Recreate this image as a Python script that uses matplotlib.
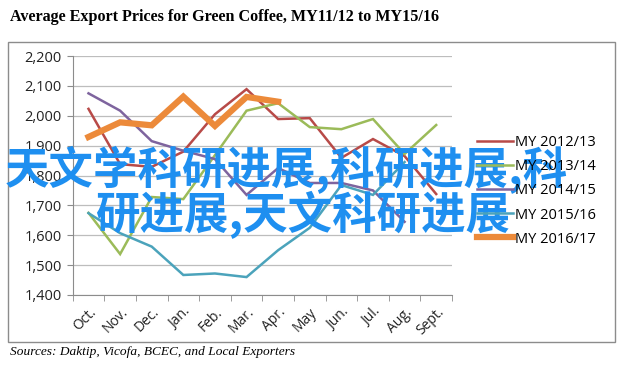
import numpy as np
import matplotlib
matplotlib.use('Agg')
import matplotlib.pyplot as plt
from matplotlib.patches import Rectangle

# data (USD/ton)
months = ["Oct.", "Nov.", "Dec.", "Jan.", "Feb.", "Mar.", "Apr.",
          "May", "Jun.", "Jul.", "Aug.", "Sept."]
my_2012 = [2023, 1838, 1829, 1880, 2005, 2089, 1989, 1992, 1859, 1922, 1865, 1738]
my_2013 = [1675, 1537, 1728, 1721, 1868, 2017, 2042, 1962, 1955, 1989, 1872, 1969]
my_2014 = [2075, 2017, 1915, 1883, 1855, 1735, 1825, 1775, 1775, 1750, 1645]
my_2015 = [1674, 1607, 1562, 1467, 1472, 1460, 1550, 1625, 1768, 1735, 1845]
my_2016 = [1929, 1978, 1968, 2064, 1966, 2063, 2047]
series_names = ["MY 2012/13", "MY 2013/14", "MY 2014/15", "MY 2015/16", "MY 2016/17"]
series_colors = ["#B84A48", "#9BBB59", "#7E649E", "#4BA3BB", "#EC8A3A"]
yticks = [1400, 1500, 1600, 1700, 1800, 1900, 2000, 2100, 2200]

W, H = 628, 372
fig = plt.figure(figsize=(W / 100, H / 100), dpi=100)
fig.patch.set_facecolor("white")

# outer chart frame
fig.patches.append(Rectangle((8 / W, 1 - 342 / H), (615 - 8) / W, (342 - 42) / H,
                             transform=fig.transFigure, fill=False,
                             edgecolor="#8c8c8c", linewidth=1.0))

ax = fig.add_axes([72.7 / W, 1 - 295 / H, (452 - 72.7) / W, (295 - 56) / H])
tick_font = "Open Sans"

data = [my_2012, my_2013, my_2014, my_2015, my_2016]
for vals, name, col in zip(data, series_names, series_colors):
    lw = 4.5 if name == "MY 2016/17" else 1.8
    ax.plot(np.arange(len(vals)), vals, color=col, linewidth=lw, label=name,
            solid_joinstyle="miter")

ax.set_xlim(-0.5, 11.5)
ax.set_ylim(1400, 2200)
ax.set_yticks(yticks)
ax.set_yticklabels([f"{v:,}" for v in yticks], fontsize=10.5, family=tick_font, color="#222222")
ax.yaxis.grid(True, color="#bdbdbd", linewidth=0.9)
ax.set_axisbelow(True)

ax.set_xticks(np.arange(12))
ax.set_xticklabels(months, rotation=45, ha="right", rotation_mode="anchor",
                   fontsize=10, family=tick_font, color="#222222")
ax.set_xticks(np.arange(-0.5, 12, 1), minor=True)
ax.tick_params(axis="x", which="major", length=0, pad=7)
ax.tick_params(axis="x", which="minor", length=4, color="#8c8c8c", direction="out")
ax.tick_params(axis="y", length=4, color="#8c8c8c", direction="out", pad=4)

for s in ["top", "right"]:
    ax.spines[s].set_visible(False)
ax.spines["left"].set_color("#8c8c8c")
ax.spines["bottom"].set_color("#8c8c8c")

fig.legend(loc="center left", bbox_to_anchor=(477 / W, 1 - 191 / H), frameon=False,
           prop={"family": tick_font, "size": 10.5}, handlelength=2.5,
           handletextpad=0.1, labelspacing=0.62, borderaxespad=0, borderpad=0)

fig.text(10 / W, 1 - 17 / H, "Average Export Prices for Green Coffee, MY11/12 to MY15/16",
         family="Liberation Serif", weight="bold", fontsize=11.6, va="center", ha="left")
fig.text(10 / W, 1 - 352 / H, "Sources: Daktip, Vicofa, BCEC, and Local Exporters",
         family="Liberation Serif", style="italic", fontsize=9.6, va="center", ha="left")

# overlaid watermark text
wm = ["Noto Sans CJK SC", "DejaVu Sans"]
fig.text(5 / W, 1 - 170 / H, "天文学科研进展,科研进展,科", family=wm, weight="bold",
         fontsize=32, color="#1E8FF0", va="center", ha="left")
fig.text(95 / W, 1 - 215 / H, "研进展,天文科研进展", family=wm, weight="bold",
         fontsize=32, color="#1E8FF0", va="center", ha="left")

fig.savefig("out.png", dpi=100)
